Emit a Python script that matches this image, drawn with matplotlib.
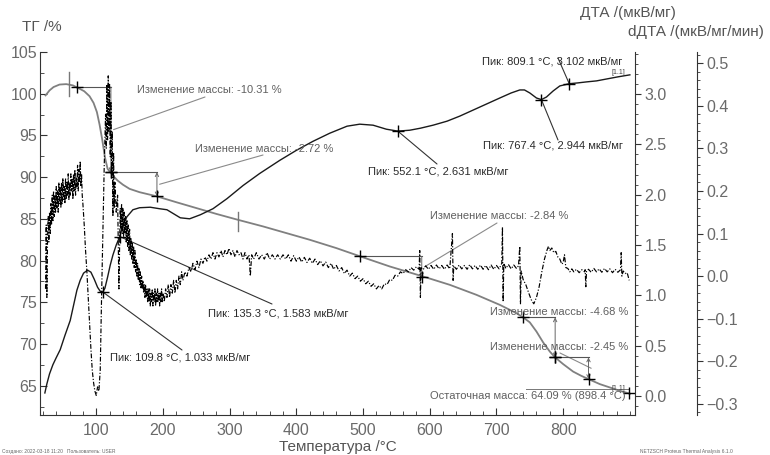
import matplotlib
matplotlib.use('Agg')
import matplotlib.pyplot as plt
from matplotlib.ticker import MultipleLocator

plt.rcParams['font.family'] = ['Liberation Sans', 'DejaVu Sans']

# ТГ, %
tg_t = [24, 30, 36, 45, 55, 65, 75, 82, 90, 96, 101, 105, 109, 113, 117, 121, 126, 132,
        140, 150, 165, 191, 220, 250, 280, 312, 350, 385, 420, 460, 496, 540, 590, 630,
        670, 705, 730, 740, 750, 760, 770, 780, 788, 800, 815, 827, 838, 855, 870, 885,
        898.4, 900]
tg_v = [99.8, 100.4, 100.8, 101.1, 101.15, 101.0, 100.6, 100.3, 99.7, 98.9, 97.8, 96.3,
        94.5, 92.4, 91.0, 90.6, 90.1, 89.6, 89.1, 88.6, 88.2, 87.7, 87.0, 86.3, 85.6, 84.9,
        84.1, 83.3, 82.5, 81.5, 80.5, 79.3, 78.1, 77.1, 75.9, 74.7, 73.7, 73.2, 72.6, 71.5,
        70.2, 69.1, 68.4, 67.6, 66.7, 66.2, 65.8, 65.2, 64.8, 64.4, 64.09, 64.05]

# ДТА, мкВ/мг
dta_t = [23, 26, 30, 35, 40, 46, 53, 61, 66, 71, 76, 81, 87, 92, 97, 102, 106, 109.8,
         113, 117, 121, 125, 130, 135.3, 140, 146, 155, 165, 181, 195, 206, 216, 226, 240,
         256, 275, 296, 320, 345, 375, 400, 425, 450, 476, 495, 515, 535, 552.1, 570, 586,
         605, 626, 645, 665, 685, 705, 722, 735, 742, 750, 760, 767.4, 775, 785, 795, 809.1,
         822, 835, 850, 866, 882, 900]
dta_v = [0.03, 0.12, 0.22, 0.31, 0.38, 0.46, 0.60, 0.75, 0.90, 1.05, 1.15, 1.22, 1.25,
         1.23, 1.16, 1.08, 1.04, 1.033, 1.07, 1.18, 1.30, 1.40, 1.50, 1.583, 1.70, 1.78,
         1.85, 1.87, 1.875, 1.86, 1.85, 1.81, 1.77, 1.76, 1.80, 1.86, 1.96, 2.09, 2.21,
         2.34, 2.44, 2.53, 2.61, 2.68, 2.70, 2.69, 2.65, 2.631, 2.64, 2.66, 2.69, 2.73,
         2.78, 2.84, 2.90, 2.96, 3.01, 3.04, 3.04, 3.01, 2.96, 2.944, 2.97, 3.03, 3.08,
         3.102, 3.11, 3.12, 3.13, 3.15, 3.17, 3.19]

# dДТА, мкВ/мг/мин
ddta = [
    (24, -0.03), (25, 0.12), (26, -0.05), (27, 0.09), (28, 0.14), (29, 0.08), (30, 0.15),
    (31, 0.10), (32, 0.17), (33, 0.12), (34, 0.19), (35, 0.13), (36, 0.20), (37, 0.14),
    (38, 0.19), (39, 0.15), (40, 0.21), (41, 0.16), (42, 0.20), (43, 0.15), (44, 0.22),
    (45, 0.17), (46, 0.21), (47, 0.16), (48, 0.22), (49, 0.17), (50, 0.23), (51, 0.18),
    (52, 0.21), (53, 0.17), (54, 0.23), (55, 0.18), (56, 0.22), (57, 0.19), (58, 0.24),
    (59, 0.18), (60, 0.22), (61, 0.19), (62, 0.24), (63, 0.20), (64, 0.23), (65, 0.18),
    (66, 0.24), (67, 0.20), (68, 0.25), (69, 0.19), (70, 0.23), (71, 0.21), (72, 0.26),
    (73, 0.20), (74, 0.25), (75, 0.22), (76, 0.27), (77, 0.21), (78, 0.24), (79, 0.19),
    (80, 0.17), (82, 0.12), (84, 0.06), (86, 0.01), (88, -0.05), (90, -0.11), (92, -0.17),
    (94, -0.22), (96, -0.25), (98, -0.27), (100, -0.28), (102, -0.26), (104, -0.27),
    (106, -0.22), (108, -0.05), (110, 0.10), (112, 0.26), (114, 0.38), (115, 0.30),
    (116, 0.45), (117, 0.32), (118, 0.47), (119, 0.34), (120, 0.45), (121, 0.28),
    (122, 0.41), (123, 0.25), (124, 0.34), (125, 0.14), (126, 0.29), (127, 0.16),
    (128, 0.22), (130, 0.15), (132, 0.19), (134, -0.03), (136, 0.16), (137, 0.11),
    (138, 0.17), (139, 0.10), (140, 0.16), (141, 0.09), (142, 0.15), (143, 0.10),
    (144, 0.14), (145, 0.08), (146, 0.13), (147, 0.07), (148, 0.12), (149, 0.06),
    (150, 0.11), (151, 0.05), (152, 0.09), (153, 0.04), (154, 0.08), (155, 0.03),
    (156, 0.07), (157, 0.02), (158, 0.06), (159, 0.01), (160, 0.04), (161, 0.0),
    (162, 0.03), (163, -0.01), (164, 0.02), (165, -0.02), (166, 0.01), (167, -0.03),
    (168, 0.0), (169, -0.03), (170, -0.01), (171, -0.04), (172, -0.02), (173, -0.05),
    (174, -0.02), (175, -0.05), (176, -0.03), (177, -0.06), (178, -0.03), (179, -0.06),
    (180, -0.03), (181, -0.07), (182, -0.04), (183, -0.06), (184, -0.03), (185, -0.07),
    (186, -0.04), (187, -0.06), (188, -0.03), (189, -0.07), (190, -0.04), (191, -0.06),
    (192, -0.03), (193, -0.06), (194, -0.04), (195, -0.07), (196, -0.04), (197, -0.06),
    (198, -0.03), (199, -0.06), (200, -0.04), (202, -0.06), (204, -0.03), (206, -0.05),
    (208, -0.02), (210, -0.05), (212, -0.02), (214, -0.04), (216, -0.01), (218, -0.04),
    (220, -0.01), (222, -0.03), (224, 0.0), (226, -0.02), (228, 0.01), (230, -0.01),
    (233, 0.01), (236, 0.0), (239, 0.02), (242, 0.01), (245, 0.03), (248, 0.015),
    (251, 0.035), (254, 0.02), (257, 0.04), (260, 0.03), (263, 0.045), (266, 0.035),
    (269, 0.05), (272, 0.04), (275, 0.055), (278, 0.04), (281, 0.055), (284, 0.045),
    (287, 0.06), (290, 0.045), (293, 0.06), (296, 0.05), (299, 0.065), (302, 0.05),
    (305, 0.06), (308, 0.045), (311, 0.06), (314, 0.05), (317, 0.055), (320, 0.04),
    (323, 0.055), (326, 0.04), (329, 0.05), (331, 0.0), (333, 0.05), (336, 0.04),
    (340, 0.055), (344, 0.04), (348, 0.05), (352, 0.04), (356, 0.055), (360, 0.04),
    (364, 0.05), (368, 0.04), (372, 0.05), (376, 0.04), (380, 0.05), (384, 0.04),
    (388, 0.05), (392, 0.035), (396, 0.048), (400, 0.035), (404, 0.045), (408, 0.033),
    (412, 0.044), (416, 0.032), (420, 0.042), (424, 0.03), (428, 0.04), (432, 0.027),
    (436, 0.036), (440, 0.024), (444, 0.033), (448, 0.02), (452, 0.03), (456, 0.016),
    (460, 0.025), (464, 0.012), (468, 0.02), (472, 0.006), (476, 0.014), (480, 0.0),
    (484, 0.007), (488, -0.006), (492, 0.0), (496, -0.012), (500, -0.006), (504, -0.018),
    (508, -0.012), (512, -0.024), (516, -0.018), (520, -0.03), (524, -0.022), (528, -0.03),
    (532, -0.018), (536, -0.02), (540, -0.008), (544, -0.01), (548, 0.002), (552, 0.0),
    (556, 0.01), (560, 0.006), (564, 0.015), (568, 0.01), (572, 0.02), (576, 0.014),
    (580, 0.022), (584, 0.016), (585, 0.06), (586, -0.05), (587, 0.02), (590, 0.015),
    (594, 0.024), (598, 0.016), (602, 0.025), (606, 0.016), (610, 0.026), (614, 0.017),
    (618, 0.025), (622, 0.016), (626, 0.026), (630, 0.017), (634, 0.10), (635, -0.01),
    (636, 0.024), (640, 0.016), (644, 0.026), (648, 0.017), (652, 0.025), (656, 0.016),
    (660, 0.027), (664, 0.017), (668, 0.025), (672, 0.016), (676, 0.026), (680, 0.016),
    (684, 0.025), (688, 0.015), (692, 0.026), (696, 0.016), (700, 0.025), (704, 0.017),
    (708, 0.03), (709, 0.115), (710, -0.06), (711, 0.03), (714, 0.018), (718, 0.027),
    (722, 0.017), (726, 0.026), (730, 0.018), (733, 0.024), (735, 0.07), (736, -0.065),
    (737, 0.012), (740, -0.008), (744, -0.02), (748, -0.038), (752, -0.055), (756, -0.065),
    (760, -0.05), (764, -0.025), (768, 0.01), (772, 0.04), (776, 0.062), (778, 0.07),
    (780, 0.06), (783, 0.066), (786, 0.055), (789, 0.058), (792, 0.045), (795, 0.04),
    (798, 0.028), (800, 0.032), (802, 0.05), (804, 0.02), (807, 0.018), (810, 0.01),
    (813, 0.017), (816, 0.01), (820, 0.016), (824, 0.008), (828, 0.015), (832, 0.01),
    (833, 0.015), (834, -0.025), (835, 0.012), (838, 0.016), (842, 0.009), (846, 0.018),
    (850, 0.01), (854, 0.017), (858, 0.009), (862, 0.018), (866, 0.01), (870, 0.017),
    (874, 0.008), (878, 0.016), (882, 0.009), (886, 0.015), (887, 0.055), (888, 0.0),
    (890, 0.012), (893, 0.006), (896, 0.008), (899, -0.01),
]
ddta_t = [p[0] for p in ddta]
ddta_v = [p[1] for p in ddta]

# mass change steps on TG
step_t0 = [71, 122, 496, 740, 788]
step_t1 = [122, 191, 588, 788, 838]
step_m0 = [100.8, 90.6, 80.5, 73.2, 68.4]
step_m1 = [90.6, 87.7, 78.0, 68.4, 65.8]
step_dm = ['-10.31', '-2.72', '-2.84', '-4.68', '-2.45']
step_arrow = ['->', '<->', '->', '<->', '<->']
resid_t, resid_m = 898.4, 64.09

# tall marks on TG
vmark_t = [59, 312]
vmark_lo = [99.7, 83.5]
vmark_hi = [102.6, 85.8]

# DTA peaks
peak_t = [109.8, 135.3, 552.1, 767.4, 809.1]
peak_v = [1.033, 1.583, 2.631, 2.944, 3.102]

W, H = 770, 455


def fx(x, y):
    # reference pixel -> figure fraction
    return (x / W, 1 - y / H)


fig = plt.figure(figsize=(W / 100, H / 100), dpi=100)
ax = fig.add_axes([40 / W, 1 - 415 / H, 595 / W, 363 / H])
ax2 = ax.twinx()
ax3 = ax.twinx()

spc = '#333333'
tkc = '#6a6a6a'
lbc = '#555555'

ax.set_xlim(15.7, 907.7)
ax.set_ylim(61.5, 105.0)
ax2.set_ylim(-0.189, 3.417)
ax3.set_ylim(-0.326, 0.526)

for s in ['top', 'right']:
    ax.spines[s].set_visible(False)
for a in (ax2, ax3):
    for s in ['top', 'left', 'bottom']:
        a.spines[s].set_visible(False)
    a.spines['right'].set_color(spc)
ax.spines['left'].set_color(spc)
ax.spines['bottom'].set_color(spc)
ax3.spines['right'].set_position(('axes', (697 - 40) / 595))

ax.xaxis.set_major_locator(MultipleLocator(100))
ax.xaxis.set_minor_locator(MultipleLocator(20))
ax.yaxis.set_major_locator(MultipleLocator(5))
ax.yaxis.set_minor_locator(MultipleLocator(2.5))
ax2.yaxis.set_major_locator(MultipleLocator(0.5))
ax2.yaxis.set_minor_locator(MultipleLocator(0.1))
ax3.yaxis.set_major_locator(MultipleLocator(0.1))
ax3.yaxis.set_minor_locator(MultipleLocator(0.02))

ax.tick_params(axis='both', which='both', direction='in', colors=spc,
               labelcolor=tkc, labelsize=11.5)
ax.tick_params(axis='x', which='major', length=5, pad=6)
ax.tick_params(axis='x', which='minor', length=3)
ax.tick_params(axis='y', which='major', length=5, pad=2)
ax.tick_params(axis='y', which='minor', length=3)
ax.set_xticks([100, 200, 300, 400, 500, 600, 700, 800])
ax.set_yticks([65, 70, 75, 80, 85, 90, 95, 100, 105])
for a in (ax2, ax3):
    a.tick_params(axis='y', which='both', direction='out', colors=spc,
                  labelcolor=tkc, labelsize=11.5)
    a.tick_params(axis='y', which='major', length=4, pad=3)
    a.tick_params(axis='y', which='minor', length=2.5)
ax2.set_yticks([0.0, 0.5, 1.0, 1.5, 2.0, 2.5, 3.0])
ax3.set_yticks([-0.3, -0.2, -0.1, 0.0, 0.1, 0.2, 0.3, 0.4, 0.5])

ax.set_xlabel('Температура /°C', fontsize=11, color=lbc, labelpad=1)

# curves
ax.plot(tg_t, tg_v, color='#808080', lw=1.3, zorder=3)
ax2.plot(dta_t, dta_v, color='#1a1a1a', lw=1.0, zorder=3)
ax3.plot(ddta_t, ddta_v, color='black', lw=0.85, ls=(0, (4, 1.5, 1, 1.5)), zorder=3)

afs = 8.0
gtc = '#606060'

# TG steps
for t0, t1, m0, m1, st in zip(step_t0, step_t1, step_m0, step_m1, step_arrow):
    ax.plot([t0, t1], [m0, m0], color='#555555', lw=0.8, zorder=4)
    ax.annotate('', xy=(t1, m1), xytext=(t1, m0),
                arrowprops=dict(arrowstyle=st, color='#666666', lw=0.7,
                                mutation_scale=6, shrinkA=0, shrinkB=0), zorder=4)
    ax.plot([t0, t1], [m0, m1], ls='none', marker='+', ms=9, mew=1.0,
            color='black', zorder=5)
ax.plot([resid_t], [resid_m], ls='none', marker='+', ms=9, mew=1.0, color='black', zorder=5)
ax.plot([745, resid_t], [64.65, 64.65], color='#777777', lw=0.7)
for t, lo, hi in zip(vmark_t, vmark_lo, vmark_hi):
    ax.plot([t, t], [lo, hi], color='#777777', lw=1.0, zorder=4)

step_lbl = [(137, 90), (195, 149), (430, 216), (490, 312), (490, 347)]
step_lead = [(205, 97), (263, 155), (497, 223), None, (560, 353)]
for i, dm in enumerate(step_dm):
    fig.text(*fx(*step_lbl[i]), 'Изменение массы: ' + dm + ' %', fontsize=afs,
             color=gtc, ha='left', va='center')
    if step_lead[i] is not None:
        ax.annotate('', xy=(step_t1[i] + 4, (step_m0[i] + step_m1[i]) / 2),
                    xytext=fx(*step_lead[i]), textcoords='figure fraction',
                    arrowprops=dict(arrowstyle='-', color='#8a8a8a', lw=0.8,
                                    shrinkA=0, shrinkB=0))
fig.text(*fx(430, 396), 'Остаточная масса: %.2f %% (%.1f °C)' % (resid_m, resid_t),
         fontsize=afs, color=gtc, ha='left', va='center')

# DTA peaks
peak_lbl = [(110, 358), (208, 313), (368, 171), (483, 145), (482, 61)]
peak_lead = [(182, 350), (272, 304), (437, 164), (558, 140), (558, 58)]
ax2.plot(peak_t, peak_v, ls='none', marker='+', ms=9, mew=1.0, color='black', zorder=5)
for i in range(len(peak_t)):
    fig.text(*fx(*peak_lbl[i]), 'Пик: %.1f °C, %.3f мкВ/мг' % (peak_t[i], peak_v[i]),
             fontsize=afs, color='#2a2a2a', ha='left', va='center')
    ax2.annotate('', xy=(peak_t[i], peak_v[i]), xytext=fx(*peak_lead[i]),
                 textcoords='figure fraction',
                 arrowprops=dict(arrowstyle='-', color='#333333', lw=0.8,
                                 shrinkA=0, shrinkB=0))

fig.text(*fx(612, 72), '[1.1]', fontsize=5, color='#444444', ha='left', va='center')
fig.text(*fx(612, 388), '[1.1]', fontsize=5, color='#444444', ha='left', va='center')

# axis titles
fig.text(*fx(22, 27), 'ТГ /%', fontsize=11, color=lbc, ha='left', va='center')
fig.text(*fx(580, 13), 'ДТА /(мкВ/мг)', fontsize=11, color=lbc, ha='left', va='center')
fig.text(*fx(628, 32), 'dДТА /(мкВ/мг/мин)', fontsize=11, color=lbc, ha='left', va='center')

# footer
fig.text(*fx(2, 451), 'Создано: 2022-03-18 11:20   Пользователь: USER', fontsize=3.5,
         color='#666666', ha='left', va='center')
fig.text(*fx(640, 451), 'NETZSCH Proteus Thermal Analysis 6.1.0', fontsize=3.5,
         color='#666666', ha='left', va='center')

fig.savefig('out.png', dpi=100)
